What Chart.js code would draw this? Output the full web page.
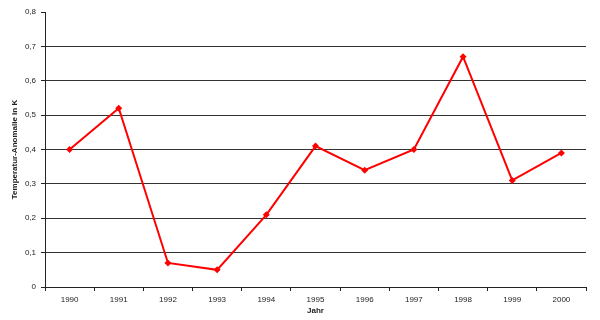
<!DOCTYPE html>
<html>
<head>
<meta charset="utf-8">
<script src="https://cdn.jsdelivr.net/npm/chart.js@4/dist/chart.umd.min.js"></script>
<style>
  html, body { margin: 0; padding: 0; background: #fff; }
  #wrap { width: 600px; height: 320px; }
</style>
</head>
<body>
<div id="wrap"><canvas id="chart"></canvas></div>
<script>
const jahre = ['1990', '1991', '1992', '1993', '1994', '1995', '1996', '1997', '1998', '1999', '2000'];
const anomalie = [0.40, 0.52, 0.07, 0.05, 0.21, 0.41, 0.34, 0.40, 0.67, 0.31, 0.39];
const yTicks = [0, 0.1, 0.2, 0.3, 0.4, 0.5, 0.6, 0.7, 0.8];

Chart.defaults.font.family = '"Liberation Sans", Arial, sans-serif';
Chart.defaults.font.size = 8;
Chart.defaults.color = '#222';

const ctx = document.getElementById('chart').getContext('2d');
const myChart = new Chart(ctx, {
    type: 'line',
    data: {
        labels: jahre,
        datasets: [{
            label: 'Temperatur-Anomalie',
            data: anomalie,
            borderColor: '#ff0000',
            backgroundColor: '#ff0000',
            borderWidth: 2,
            pointStyle: 'rectRot',
            pointRadius: 3.5,
            pointBorderWidth: 0,
            tension: 0
        }]
    },
    options: {
        responsive: true,
        maintainAspectRatio: false,
        animation: false,
        layout: { padding: { top: 12, right: 14, bottom: 4, left: 10 } },
        plugins: {
            legend: { display: false },
            tooltip: { enabled: false }
        },
        scales: {
            x: {
                offset: true,
                grid: {
                    offset: true,
                    drawOnChartArea: false,
                    drawTicks: true,
                    tickLength: 4,
                    color: '#222'
                },
                border: { color: '#222', width: 1 },
                ticks: { padding: 4, maxRotation: 0, font: { size: 8 } },
                title: {
                    display: true,
                    text: 'Jahr',
                    font: { size: 8, weight: 'bold' },
                    padding: { top: 2, bottom: 0 }
                },
                afterFit: function (scale) { scale.height = 29; }
            },
            y: {
                min: 0,
                max: 0.8,
                afterBuildTicks: function (scale) {
                    scale.ticks = yTicks.map(function (v) { return { value: v }; });
                },
                grid: {
                    color: function (c) {
                        return c.tick && c.tick.value === 0.8 ? 'rgba(0,0,0,0)' : '#333';
                    },
                    lineWidth: 1,
                    drawTicks: true,
                    tickLength: 4,
                    tickColor: '#222'
                },
                border: { color: '#222', width: 1 },
                ticks: {
                    padding: 5,
                    font: { size: 8 },
                    callback: function (v) {
                        return v === 0 ? '0' : v.toFixed(1).replace('.', ',');
                    }
                },
                title: {
                    display: true,
                    text: 'Temperatur-Anomalie in K',
                    font: { size: 8, weight: 'bold' },
                    padding: { top: 0, bottom: 6 }
                },
                afterFit: function (scale) { scale.width = 35; }
            }
        }
    }
});
</script>
</body>
</html>
